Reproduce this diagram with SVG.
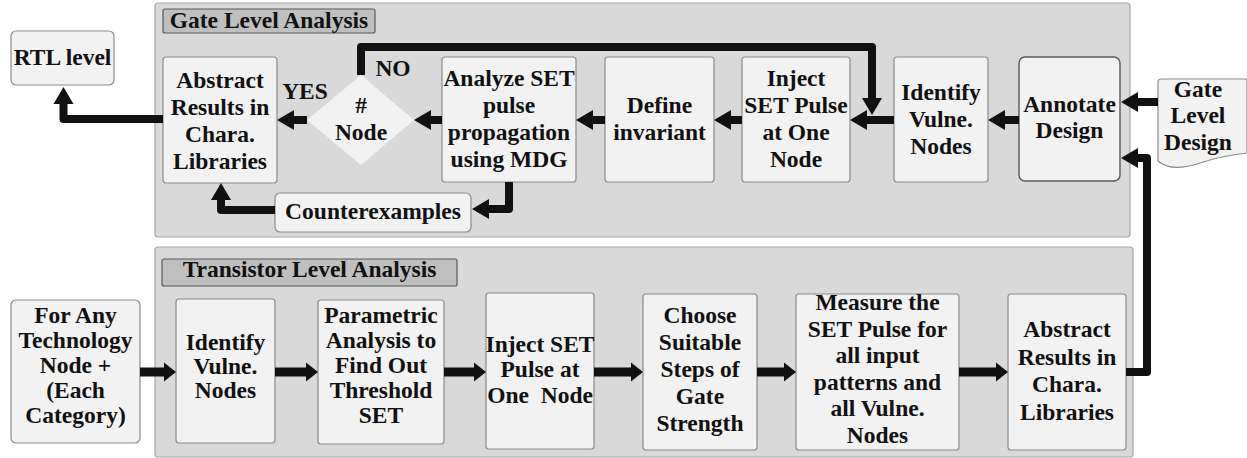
<svg xmlns="http://www.w3.org/2000/svg" width="1247" height="458" viewBox="0 0 1247 458">
  <style>
    text { font-family: "Liberation Serif", "DejaVu Serif", serif; font-weight: bold; font-size: 23.5px; fill: #111; text-anchor: middle; }
    .panel { fill: #d9d9d9; stroke: #a6a6a6; stroke-width: 1.2; }
    .title { fill: #bfbfbf; stroke: #595959; stroke-width: 1.2; }
    .box { fill: #f2f2f2; stroke: #8c8c8c; stroke-width: 1.2; }
    .boxdark { fill: #f2f2f2; stroke: #595959; stroke-width: 1.4; }
    .diamond { fill: #f2f2f2; stroke: none; }
    .wire { fill: none; stroke: #111; stroke-width: 8; stroke-linejoin: round; marker-end: url(#head); }
    .flow { fill: none; stroke: #111; stroke-width: 9; marker-end: url(#block); }
  </style>
  <defs>
    <marker id="head" markerUnits="userSpaceOnUse" markerWidth="18" markerHeight="20" refX="0" refY="10" orient="auto" overflow="visible">
      <path d="M0,0 L17,10 L0,20 Z" fill="#111"/>
    </marker>
    <marker id="block" markerUnits="userSpaceOnUse" markerWidth="12" markerHeight="19" refX="0" refY="9.5" orient="auto" overflow="visible">
      <path d="M0,0 L12,9.5 L0,19 Z" fill="#111"/>
    </marker>
  </defs>

  <!-- panels -->
  <g id="gate-panel">
    <rect class="panel" x="155" y="3" width="975" height="234" rx="3"/>
    <rect class="title" x="163" y="9" width="212" height="24" rx="2"/>
    <text x="269" y="28">Gate Level Analysis</text>
  </g>
  <g id="transistor-panel">
    <rect class="panel" x="155" y="247" width="978" height="210" rx="3"/>
    <rect class="title" x="162" y="259" width="295" height="27" rx="2"/>
    <text x="309.5" y="277">Transistor Level Analysis</text>
  </g>

  <!-- gate level flow -->
  <g id="rtl-level">
    <rect class="box" x="11" y="31" width="103" height="54" rx="5"/>
    <text x="62.5" y="65">RTL level</text>
  </g>
  <g id="gate-abstract">
    <rect class="box" x="163" y="57" width="114" height="126" rx="3"/>
    <text x="220" y="88">Abstract</text>
    <text x="220" y="115">Results in</text>
    <text x="220" y="142">Chara.</text>
    <text x="220" y="169">Libraries</text>
  </g>
  <g id="node-check">
    <polygon class="diamond" points="361,75 414,120 361,165 307,120"/>
    <text x="361" y="113">#</text>
    <text x="361" y="140">Node</text>
  </g>
  <g id="counterexamples">
    <rect class="box" x="275" y="193" width="196" height="39" rx="5"/>
    <text x="373" y="219">Counterexamples</text>
  </g>
  <g id="analyze-set">
    <rect class="box" x="442" y="57" width="134" height="125" rx="3"/>
    <text x="509" y="86">Analyze SET</text>
    <text x="509" y="113">pulse</text>
    <text x="509" y="140">propagation</text>
    <text x="509" y="167">using MDG</text>
  </g>
  <g id="define-invariant">
    <rect class="box" x="605" y="57" width="109" height="125" rx="3"/>
    <text x="659.5" y="113">Define</text>
    <text x="659.5" y="140">invariant</text>
  </g>
  <g id="gate-inject">
    <rect class="box" x="742" y="57" width="108" height="125" rx="3"/>
    <text x="796" y="86">Inject</text>
    <text x="796" y="113">SET Pulse</text>
    <text x="796" y="140">at One</text>
    <text x="796" y="167">Node</text>
  </g>
  <g id="gate-identify">
    <rect class="box" x="894" y="57" width="94" height="125" rx="3"/>
    <text x="941" y="100">Identify</text>
    <text x="941" y="127">Vulne.</text>
    <text x="941" y="154">Nodes</text>
  </g>
  <g id="annotate-design">
    <rect class="boxdark" x="1019" y="57" width="101" height="124" rx="6"/>
    <text x="1069.5" y="112">Annotate</text>
    <text x="1069.5" y="138">Design</text>
  </g>
  <g id="gate-level-design">
    <path class="box" d="M1158,82 Q1158,79 1161,79 H1247 V153 C1230,155 1215,158 1200,163 C1185,168 1168,170 1158,161 Z"/>
    <text x="1198" y="97">Gate</text>
    <text x="1198" y="123">Level</text>
    <text x="1198" y="150">Design</text>
  </g>

  <!-- transistor level flow -->
  <g id="technology-node">
    <rect class="box" x="11" y="300" width="129" height="143" rx="5"/>
    <text x="75.5" y="323">For Any</text>
    <text x="75.5" y="348">Technology</text>
    <text x="75.5" y="373">Node +</text>
    <text x="75.5" y="398">(Each</text>
    <text x="75.5" y="423">Category)</text>
  </g>
  <g id="tr-identify">
    <rect class="box" x="176" y="299" width="99" height="144" rx="3"/>
    <text x="225.5" y="350">Identify</text>
    <text x="225.5" y="374">Vulne.</text>
    <text x="225.5" y="398">Nodes</text>
  </g>
  <g id="parametric">
    <rect class="box" x="318" y="300" width="126" height="144" rx="3"/>
    <text x="381" y="323">Parametric</text>
    <text x="381" y="348">Analysis to</text>
    <text x="381" y="373">Find Out</text>
    <text x="381" y="398">Threshold</text>
    <text x="381" y="423">SET</text>
  </g>
  <g id="tr-inject">
    <rect class="box" x="486" y="293" width="108" height="156" rx="3"/>
    <text x="540" y="352">Inject SET</text>
    <text x="540" y="377">Pulse at</text>
    <text x="540" y="403" xml:space="preserve">One  Node</text>
  </g>
  <g id="choose-steps">
    <rect class="box" x="643" y="294" width="114" height="156" rx="3"/>
    <text x="700" y="323">Choose</text>
    <text x="700" y="350">Suitable</text>
    <text x="700" y="377">Steps of</text>
    <text x="700" y="404">Gate</text>
    <text x="700" y="431">Strength</text>
  </g>
  <g id="measure-set">
    <rect class="box" x="796" y="294" width="163" height="156" rx="3"/>
    <text x="877.5" y="310">Measure the</text>
    <text x="877.5" y="336.5">SET Pulse for</text>
    <text x="877.5" y="363">all input</text>
    <text x="877.5" y="389.5">patterns and</text>
    <text x="877.5" y="416">all Vulne.</text>
    <text x="877.5" y="442.5">Nodes</text>
  </g>
  <g id="tr-abstract">
    <rect class="box" x="1008" y="294" width="118" height="156" rx="3"/>
    <text x="1067" y="337">Abstract</text>
    <text x="1067" y="364.5">Results in</text>
    <text x="1067" y="392">Chara.</text>
    <text x="1067" y="419.5">Libraries</text>
  </g>

  <!-- branch labels -->
  <g id="labels">
    <text x="305" y="99">YES</text>
    <text x="393" y="76">NO</text>
  </g>

  <!-- connectors -->
  <g id="connectors">
    <path class="wire" d="M1158,102 H1138"/>
    <path class="wire" d="M1019,120 H1005"/>
    <path class="wire" d="M894,120 H867"/>
    <path class="wire" d="M742,120 H731"/>
    <path class="wire" d="M605,120 H593"/>
    <path class="wire" d="M442,120 H431"/>
    <path class="wire" d="M307,120 H294"/>
    <path class="wire" d="M361,75 V47 H872 V98"/>
    <path class="wire" d="M163,119 H63.5 V104"/>
    <path class="wire" d="M509,182 V209 H489"/>
    <path class="wire" d="M275,210 H221 V200"/>
    <path class="wire" d="M1126,372 H1147 V158 H1138"/>
    <path class="flow" d="M140,372 H164"/>
    <path class="flow" d="M275,372 H306"/>
    <path class="flow" d="M444,372 H474"/>
    <path class="flow" d="M594,372 H631"/>
    <path class="flow" d="M757,372 H784"/>
    <path class="flow" d="M959,372 H996"/>
  </g>
</svg>
